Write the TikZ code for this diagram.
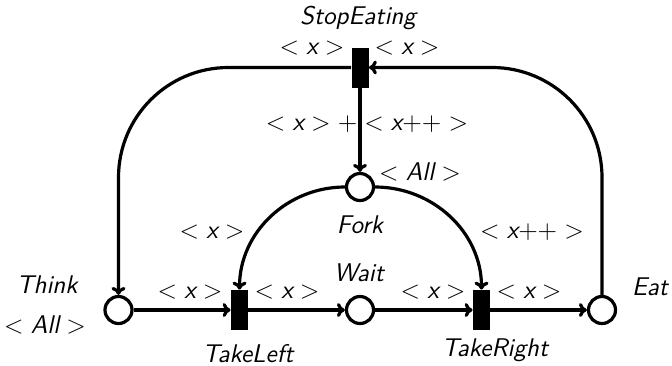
\RequirePackage{fix-cm}
\documentclass[tikz,border=0pt]{standalone}
\usetikzlibrary{arrows.meta}
\begin{document}
\begin{tikzpicture}[x=0.5pt,y=-0.5pt,
  place/.style={circle,draw,line width=1.6pt,minimum size=13.5pt,inner sep=0pt,fill=white},
  trans/.style={rectangle,fill=black,minimum width=8.5pt,minimum height=20pt,inner sep=0pt},
  arc/.style={line width=1.6pt,-{Computer Modern Rightarrow[length=4pt,width=7pt]}},
  lbl/.style={font=\fontsize{12.8}{15}\selectfont\sffamily\itshape,inner sep=0pt}]
\useasboundingbox (0,0) rectangle (672,365);

% places and transitions
\node[place] (think) at (118.5,310) {};
\node[trans] (tl)    at (239.5,310) {};
\node[place] (wait)  at (360,310) {};
\node[trans] (tr)    at (481.5,310) {};
\node[place] (eat)   at (602,310) {};
\node[trans] (se)    at (360,67.5) {};
\node[place] (fork)  at (360,187) {};

% arcs
\draw[arc] (think) -- (tl);
\draw[arc] (tl) -- (wait);
\draw[arc] (wait) -- (tr);
\draw[arc] (tr) -- (eat);
\draw[arc, rounded corners=55pt] (se.west) -| (think.north);
\draw[arc, rounded corners=55pt] (eat.north) |- (se.east);
\draw[arc] (se) -- (fork);
\draw[arc] (fork.west) to[out=180,in=90] (tl.north);
\draw[arc] (fork.east) to[out=0,in=90] (tr.north);

% names
\node[lbl] (nSE)    at (358,18)  {StopEating};
\node[lbl] (nFork)  at (360,225) {Fork};
\node[lbl] (nThink) at (47,285)  {Think};
\node[lbl] (nWait)  at (359,273) {Wait};
\node[lbl] (nEat)   at (650,287) {Eat};
\node[lbl] (nTL)    at (248,354) {TakeLeft};
\node[lbl] (nTR)    at (495,350) {TakeRight};

% markings and inscriptions
\node[lbl] (mThink) at (45,325)  {$<\mbox{All}>$};
\node[lbl] (mFork)  at (420,172) {$<\mbox{All}>$};
\node[lbl] (iSEl)   at (312,48)  {$<\mbox{x}>$};
\node[lbl] (iSEr)   at (407,48)  {$<\mbox{x}>$};
\node[lbl] (iSEd)   at (367,124) {$<\mbox{x}>+<\mbox{x}{+}{+}>$};
\node[lbl] (iFl)    at (212,232) {$<\mbox{x}>$};
\node[lbl] (iFr)    at (532,232) {$<\mbox{x}{+}{+}>$};
\node[lbl] (iTLin)  at (190,292) {$<\mbox{x}>$};
\node[lbl] (iTLout) at (287,292) {$<\mbox{x}>$};
\node[lbl] (iTRin)  at (433,292) {$<\mbox{x}>$};
\node[lbl] (iTRout) at (529,292) {$<\mbox{x}>$};
\end{tikzpicture}
\end{document}
